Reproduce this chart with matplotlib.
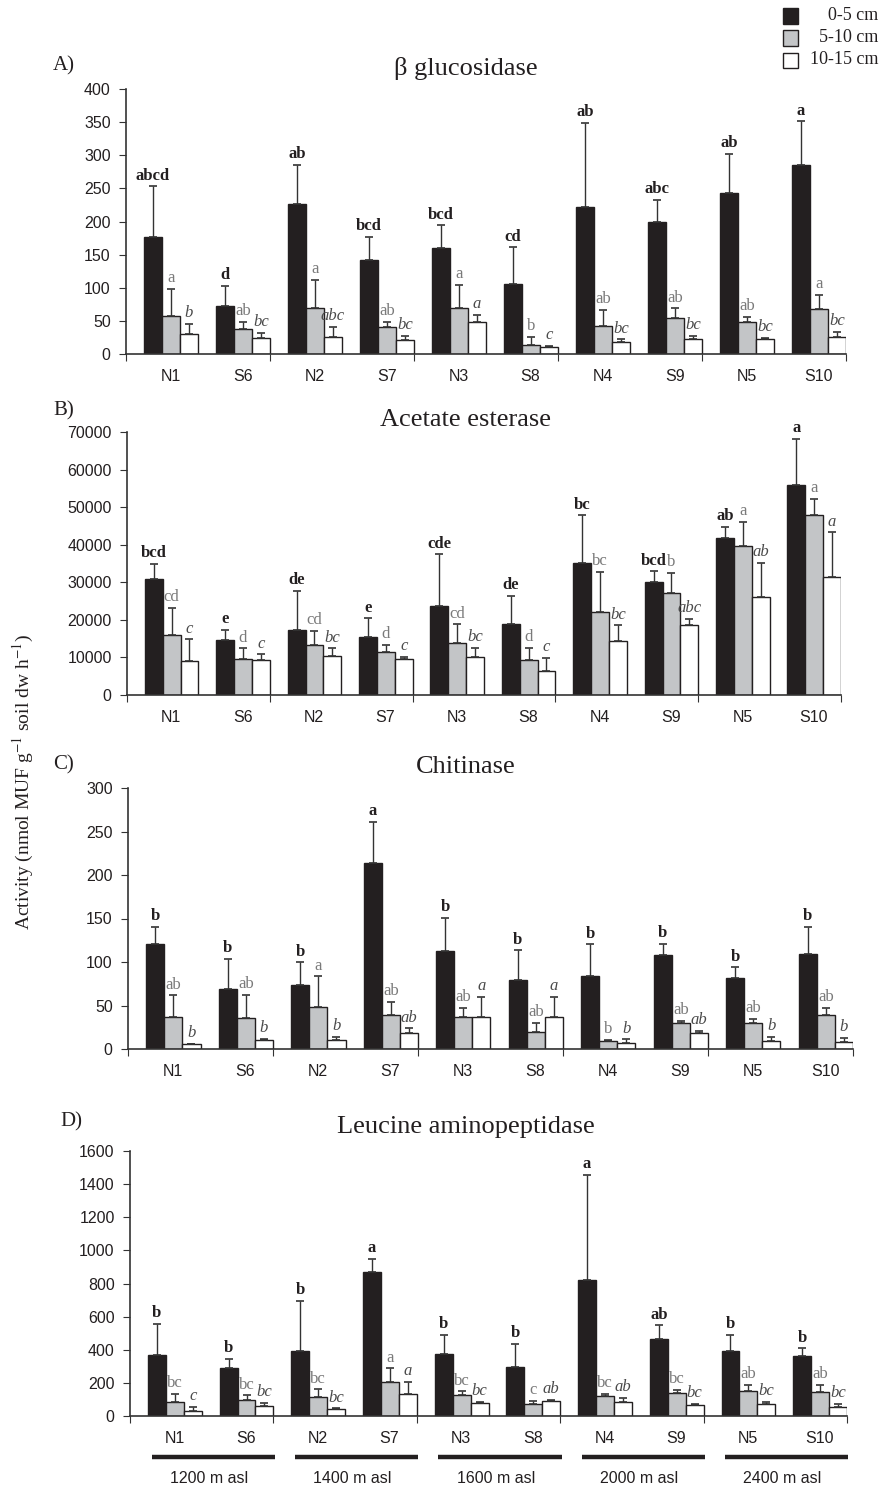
import numpy as np
import matplotlib.pyplot as plt
from matplotlib.patches import Rectangle

plt.rcParams['mathtext.fontset'] = 'stix'

# site / category data
sites = ['N1', 'S6', 'N2', 'S7', 'N3', 'S8', 'N4', 'S9', 'N5', 'S10']
altitudes = ['1200 m asl', '1400 m asl', '1600 m asl', '2000 m asl', '2400 m asl']
depths = ['0-5 cm', '5-10 cm', '10-15 cm']

# A) beta glucosidase
glu_d1 = [176, 72, 227, 142, 160, 105, 222, 200, 243, 285]
glu_d1_sd = [77, 31, 59, 35, 34, 56, 127, 33, 59, 66]
glu_d2 = [58, 38, 69, 41, 70, 14, 42, 54, 49, 68]
glu_d2_sd = [40, 11, 43, 8, 34, 12, 25, 15, 7, 21]
glu_d3 = [30, 24, 26, 21, 48, 11, 18, 23, 23, 25]
glu_d3_sd = [16, 8, 15, 6, 11, 1, 4, 4, 1.5, 8]
glu_let1 = ['abcd', 'd', 'ab', 'bcd', 'bcd', 'cd', 'ab', 'abc', 'ab', 'a']
glu_let2 = ['a', 'ab', 'a', 'ab', 'a', 'b', 'ab', 'ab', 'ab', 'a']
glu_let3 = ['b', 'bc', 'abc', 'bc', 'a', 'c', 'bc', 'bc', 'bc', 'bc']

# B) acetate esterase
est_d1 = [30800, 14600, 17300, 15500, 23800, 19000, 35100, 30100, 41700, 55900]
est_d1_sd = [4200, 2700, 10500, 4900, 13600, 7400, 12700, 2800, 3000, 12200]
est_d2 = [16100, 9700, 13300, 11500, 13900, 9400, 22000, 27200, 39600, 48000]
est_d2_sd = [7000, 2700, 3800, 1800, 4900, 3200, 10800, 5400, 6400, 4100]
est_d3 = [9000, 9200, 10300, 9700, 10200, 6400, 14300, 18700, 26100, 31500]
est_d3_sd = [5800, 1600, 2100, 400, 2300, 3500, 4200, 1600, 9100, 11800]
est_let1 = ['bcd', 'e', 'de', 'e', 'cde', 'de', 'bc', 'bcd', 'ab', 'a']
est_let2 = ['cd', 'd', 'cd', 'd', 'cd', 'd', 'bc', 'b', 'a', 'a']
est_let3 = ['c', 'c', 'bc', 'c', 'bc', 'c', 'bc', 'abc', 'ab', 'a']

# C) chitinase
chi_d1 = [120.6, 68.8, 74.1, 213.6, 112.5, 79.5, 84.1, 107.6, 81.4, 109]
chi_d1_sd = [20, 34.5, 25.4, 47.6, 38.5, 33.8, 36.1, 13.4, 12.3, 31.2]
chi_d2 = [37.3, 36.1, 48.4, 39.2, 36.9, 19.2, 9.6, 30.3, 30, 38.8]
chi_d2_sd = [24.2, 26.5, 35, 14.6, 10.7, 10.8, 0.8, 2, 5, 8.8]
chi_d3 = [5.8, 10.8, 10, 18.8, 36.9, 36.5, 7.3, 18.4, 9.6, 8.1]
chi_d3_sd = [0.3, 0.7, 4.2, 5, 23, 23.8, 3.8, 2.7, 4.6, 4.6]
chi_let1 = ['b', 'b', 'b', 'a', 'b', 'b', 'b', 'b', 'b', 'b']
chi_let2 = ['ab', 'ab', 'a', 'ab', 'ab', 'ab', 'b', 'ab', 'ab', 'ab']
chi_let3 = ['b', 'b', 'b', 'ab', 'a', 'a', 'b', 'ab', 'b', 'b']

# D) leucine aminopeptidase
leu_d1 = [371, 287, 395, 868, 377, 293, 821, 466, 395, 363]
leu_d1_sd = [184, 56, 301, 80, 113, 141, 636, 81, 97, 45]
leu_d2 = [87, 97, 117, 208, 127, 71, 119, 137, 153, 143]
leu_d2_sd = [48, 28, 44, 79, 22, 20, 14, 22, 35, 47]
leu_d3 = [32, 60, 40, 133, 79, 93, 83, 65, 71, 54]
leu_d3_sd = [22, 19, 6, 75, 8, 4, 26, 10, 14, 19]
leu_let1 = ['b', 'b', 'b', 'a', 'b', 'b', 'a', 'ab', 'b', 'b']
leu_let2 = ['bc', 'bc', 'bc', 'a', 'bc', 'c', 'bc', 'bc', 'ab', 'ab']
leu_let3 = ['c', 'bc', 'bc', 'a', 'bc', 'ab', 'ab', 'bc', 'bc', 'bc']

W, H = 882, 1487
fig = plt.figure(figsize=(W / 100, H / 100), dpi=100)

SERIF = 'Liberation Serif'
SANS = 'Liberation Sans'
INK = '#231f20'
bar_colors = [INK, '#c3c5c7', 'white']
let_styles = [dict(fontweight='bold', color=INK, fontstyle='normal'),
              dict(fontweight='normal', color='#7a7a7a', fontstyle='normal'),
              dict(fontweight='normal', color='#4a4a4a', fontstyle='italic')]


def px_axes(left, top, right, bottom):
    return fig.add_axes([left / W, 1 - bottom / H, (right - left) / W, (bottom - top) / H])


def panel(box, means, sds, letters, ymax, ystep, title, tag, title_y, tag_xy):
    ax = px_axes(*box)
    x = np.arange(len(sites))
    bw = 0.25
    for k in range(3):
        xs = x + 0.25 + k * bw
        ax.bar(xs, means[k], width=bw, align='edge', color=bar_colors[k],
               edgecolor=INK, linewidth=1.0, zorder=2)
        ax.errorbar(xs + bw / 2, means[k], yerr=[np.zeros(len(sites)), sds[k]],
                    fmt='none', ecolor='#333333', elinewidth=1.0, capsize=3,
                    capthick=1.2, zorder=3)
        for xi, m, s, lab in zip(xs + bw / 2, means[k], sds[k], letters[k]):
            ax.annotate(lab, (xi, m + s), xytext=(0, 2), textcoords='offset points',
                        ha='center', va='bottom', family=SERIF, fontsize=12,
                        **let_styles[k])
    ax.set_xlim(0, 10)
    ax.set_ylim(0, ymax)
    ax.set_yticks(np.arange(0, ymax + 1, ystep))
    ax.set_xticks(np.arange(0, 11, 2))
    ax.set_xticklabels([])
    ax.set_xticks(x + 0.62, minor=True)
    ax.set_xticklabels(sites, minor=True)
    ax.tick_params(axis='x', which='major', length=5, direction='out', color='#333333')
    ax.tick_params(axis='x', which='minor', length=0, pad=11, labelsize=11.5, labelcolor=INK)
    ax.tick_params(axis='y', length=5, pad=6, labelsize=11.5, labelcolor=INK, color='#333333')
    for lbl in ax.get_xticklabels(minor=True) + ax.get_yticklabels():
        lbl.set_family(SANS)
    for sp in ['top', 'right']:
        ax.spines[sp].set_visible(False)
    for sp in ['left', 'bottom']:
        ax.spines[sp].set_color('#333333')
        ax.spines[sp].set_linewidth(1.2)
    fig.text(466 / W, 1 - title_y / H, title, ha='center', va='center',
             family=SERIF, fontsize=19, color=INK)
    fig.text(tag_xy[0] / W, 1 - tag_xy[1] / H, tag, ha='left', va='center',
             family=SERIF, fontsize=15, color=INK)
    return ax


panel((126, 89, 846, 354), [glu_d1, glu_d2, glu_d3], [glu_d1_sd, glu_d2_sd, glu_d3_sd],
      [glu_let1, glu_let2, glu_let3], 400, 50, 'β glucosidase', 'A)', 68, (53, 66))
panel((127, 432, 841, 695), [est_d1, est_d2, est_d3], [est_d1_sd, est_d2_sd, est_d3_sd],
      [est_let1, est_let2, est_let3], 70000, 10000, 'Acetate esterase', 'B)', 420, (53, 411))
panel((128, 788, 853, 1049), [chi_d1, chi_d2, chi_d3], [chi_d1_sd, chi_d2_sd, chi_d3_sd],
      [chi_let1, chi_let2, chi_let3], 300, 50, 'Chitinase', 'C)', 767, (53, 765))
axd = panel((130, 1151, 847, 1416), [leu_d1, leu_d2, leu_d3], [leu_d1_sd, leu_d2_sd, leu_d3_sd],
            [leu_let1, leu_let2, leu_let3], 1600, 200, 'Leucine aminopeptidase', 'D)', 1127, (60, 1122))

# altitude bars under pairs of sites
trans = axd.get_xaxis_transform()
for k, alt in enumerate(altitudes):
    axd.plot([2 * k + 0.3, 2 * k + 2.02], [-0.155, -0.155], transform=trans,
             color=INK, linewidth=3.2, clip_on=False, solid_capstyle='butt')
    axd.text(2 * k + 1.1, -0.235, alt, transform=trans, ha='center', va='center',
             family=SANS, fontsize=11.5, color=INK)

# y label
fig.text(23 / W, 1 - 782 / H, 'Activity (nmol MUF g$^{-1}$ soil dw h$^{-1}$)',
         rotation=90, ha='center', va='center', family=SERIF, fontsize=14, color=INK)

# legend drawn in figure pixels
leg_y = [16, 38, 60]
for c, lab, yy in zip(bar_colors, depths, leg_y):
    fig.add_artist(Rectangle((783 / W, 1 - (yy + 7.5) / H), 15 / W, 15 / H,
                             transform=fig.transFigure, facecolor=c,
                             edgecolor=INK, linewidth=1.0))
    fig.text(878 / W, 1 - yy / H, lab, ha='right', va='center',
             family=SERIF, fontsize=13, color=INK)

fig.savefig('out.png', dpi=100)
